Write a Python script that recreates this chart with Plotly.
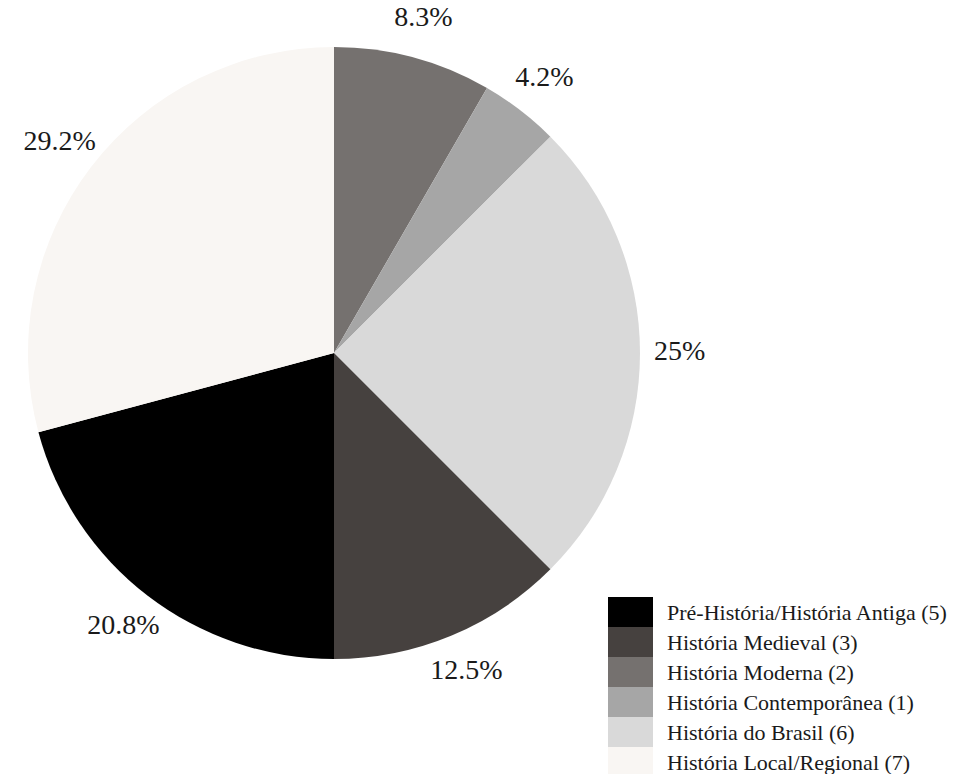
import math
import plotly.graph_objects as go

# Data (legend order)
categories = [
    "Pré-História/História Antiga",
    "História Medieval",
    "História Moderna",
    "História Contemporânea",
    "História do Brasil",
    "História Local/Regional",
]
counts = [5, 3, 2, 1, 6, 7]
colors = ["#000000", "#46413f", "#75716f", "#a6a6a6", "#d9d9d9", "#f9f6f3"]

# Order of slices clockwise from 12 o'clock
pie_order = [
    "História Moderna",
    "História Contemporânea",
    "História do Brasil",
    "História Medieval",
    "Pré-História/História Antiga",
    "História Local/Regional",
]

idx = [categories.index(c) for c in pie_order]
FONT = "Liberation Serif"
W, H = 953, 774
CX, CY, R = 334, 353, 306          # pie centre (px from top-left) and radius (px)
DOM_X = [(CX - R) / W, (CX + R) / W]
DOM_Y = [(H - CY - R) / H, (H - CY + R) / H]
LABEL_R = 1.13                     # label distance in pie radii

vals = [counts[i] for i in idx]
total = sum(vals)

# label positions (mid-angle of each slice, clockwise from 12 o'clock) and texts, from the data
lx, ly, pct_texts = [], [], []
cum = 0
for v in vals:
    ang = math.radians((cum + v / 2) / total * 360)
    cum += v
    lx.append(LABEL_R * math.sin(ang))
    ly.append(LABEL_R * math.cos(ang))
    s = f"{v / total * 100:.1f}".rstrip("0").rstrip(".")
    pct_texts.append(s + "%")

fig = go.Figure()
fig.add_trace(go.Pie(
    labels=[categories[i] for i in idx],
    values=vals,
    marker=dict(colors=[colors[i] for i in idx], line=dict(width=0)),
    sort=False,
    direction="clockwise",
    rotation=0,
    textinfo="none",
    showlegend=False,
    domain=dict(x=DOM_X, y=DOM_Y),
    hoverinfo="label+value+percent",
))

# Percentage labels around the pie (axes span the whole page, 1 unit = pie radius, origin = pie centre)
fig.add_trace(go.Scatter(
    x=lx, y=ly,
    mode="text",
    text=pct_texts,
    textposition="middle center",
    textfont=dict(family=FONT, size=28, color="#1a1a1a"),
    cliponaxis=False,
    showlegend=False,
    hoverinfo="skip",
))

# Custom legend (boxes + labels)
x0, x1 = 608, 653
top = 597
row_h = 30
shapes = []
annotations = []
for k, (cat, n, col) in enumerate(zip(categories, counts, colors)):
    y_top = top + k * row_h
    y_bot = y_top + row_h
    shapes.append(dict(
        type="rect", xref="paper", yref="paper",
        x0=x0 / W, x1=x1 / W, y0=1 - y_bot / H, y1=1 - y_top / H,
        fillcolor=col, line=dict(width=0),
    ))
    annotations.append(dict(
        xref="paper", yref="paper",
        x=665 / W, y=1 - (y_top + row_h / 2) / H,
        text=f"{cat} ({n})", showarrow=False,
        xanchor="left", yanchor="middle",
        font=dict(family=FONT, size=22, color="#1a1a1a"),
    ))

axis_common = dict(visible=False, showgrid=False, zeroline=False, fixedrange=True, domain=[0, 1])
fig.update_layout(
    width=W, height=H,
    margin=dict(l=0, r=0, t=0, b=0),
    paper_bgcolor="white",
    plot_bgcolor="rgba(0,0,0,0)",
    font=dict(family=FONT),
    xaxis=dict(range=[-CX / R, (W - CX) / R], **axis_common),
    yaxis=dict(range=[-(H - CY) / R, CY / R], **axis_common),
    shapes=shapes,
    annotations=annotations,
    showlegend=False,
)

fig.write_html("out.html")
